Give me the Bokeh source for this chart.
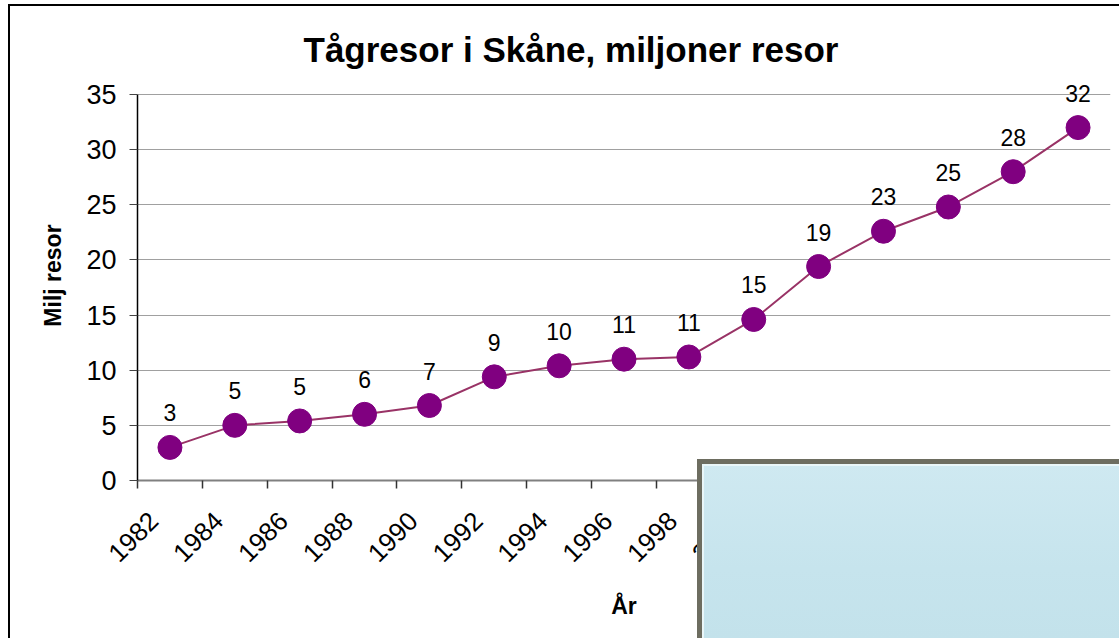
import math
from bokeh.plotting import figure
from bokeh.models import (Range1d, FixedTicker, ColumnDataSource, LabelSet, Div, GridBox)
from bokeh.core.properties import value
from bokeh.embed import file_html
from bokeh.resources import INLINE

# ---- data ----
years = [1982, 1984, 1986, 1988, 1990, 1992, 1994, 1996, 1998, 2000, 2002, 2004, 2006, 2008, 2010]
trips = [3.0, 5.0, 5.4, 6.0, 6.8, 9.4, 10.4, 11.0, 11.2, 14.6, 19.4, 22.6, 24.8, 28.0, 32.0]
trip_labels = ["3", "5", "5", "6", "7", "9", "10", "11", "11", "15", "19", "23", "25", "28", "32"]
y_ticks = [0, 5, 10, 15, 20, 25, 30, 35]
title_text = "Tågresor i Skåne, miljoner resor"
x_title = "År"
y_title = "Milj resor"

FONT = "Liberation Sans"
W, H = 1119, 638
FRAME_L, FRAME_R, FRAME_T, FRAME_B = 137, 1110, 70, 480   # page pixels
AXIS_TOP_PX = 94                                             # where 35 sits
y_top = 35 + (AXIS_TOP_PX - FRAME_T) * 35.0 / (FRAME_B - AXIS_TOP_PX)

p = figure(width=W, height=H, output_backend="svg", toolbar_location=None,
           x_range=Range1d(years[0] - 1, years[-1] + 1), y_range=Range1d(0, y_top),
           min_border_left=FRAME_L, min_border_right=W - FRAME_R,
           min_border_top=FRAME_T, min_border_bottom=H - FRAME_B)
p.outline_line_color = None
p.background_fill_color = "white"
p.border_fill_color = "white"

# title
p.title.text = title_text
p.title.align = "left"
p.title.offset = 166
p.title.standoff = 4
p.title.text_font = FONT
p.title.text_font_style = "bold"
p.title.text_font_size = "35px"
p.title.text_color = "black"

# grid
p.xgrid.grid_line_color = None
p.ygrid.grid_line_color = "#a0a0a0"
p.ygrid.grid_line_width = 1

# y axis
p.yaxis.ticker = FixedTicker(ticks=y_ticks)
p.yaxis.bounds = (y_ticks[0], y_ticks[-1])
p.yaxis.axis_line_color = "black"
p.yaxis.axis_line_width = 1.5
p.yaxis.major_tick_line_color = "#444444"
p.yaxis.major_tick_out = 8
p.yaxis.major_tick_in = 0
p.yaxis.minor_tick_line_color = None
p.yaxis.major_label_text_font = FONT
p.yaxis.major_label_text_font_size = "27px"
p.yaxis.major_label_text_color = "black"
p.yaxis.major_label_standoff = 13
p.yaxis.axis_label = y_title
p.yaxis.axis_label_text_font = FONT
p.yaxis.axis_label_text_font_style = "bold"
p.yaxis.axis_label_text_font_size = "23px"
p.yaxis.axis_label_text_color = "black"
p.yaxis.axis_label_standoff = 17

# x axis: tick marks at category boundaries; rotated labels anchored a bit left
# of each category centre, as in the spreadsheet original
bounds = [y - 1 for y in years] + [years[-1] + 1]
label_pos = [y - 0.5 for y in years]
p.xaxis.ticker = FixedTicker(ticks=label_pos, minor_ticks=bounds)
p.xaxis.major_label_overrides = {lp: str(y) for lp, y in zip(label_pos, years)}
p.xaxis.axis_line_color = "#808080"
p.xaxis.axis_line_width = 2
p.xaxis.major_tick_line_color = None
p.xaxis.minor_tick_line_color = "#333333"
p.xaxis.minor_tick_line_width = 1.5
p.xaxis.minor_tick_out = 8
p.xaxis.minor_tick_in = 0
p.xaxis.major_label_orientation = math.pi / 4
p.xaxis.major_label_text_font = FONT
p.xaxis.major_label_text_font_size = "26px"
p.xaxis.major_label_text_color = "black"
p.xaxis.major_label_standoff = 28
p.xaxis.axis_label = x_title
p.xaxis.axis_label_text_font = FONT
p.xaxis.axis_label_text_font_style = "bold"
p.xaxis.axis_label_text_font_size = "23px"
p.xaxis.axis_label_text_color = "black"
p.xaxis.axis_label_standoff = 20

src = ColumnDataSource(dict(x=years, y=trips, lab=trip_labels))
p.line("x", "y", source=src, line_color="#993366", line_width=2)
p.scatter("x", "y", source=src, size=24, fill_color="#800080", line_color="#800080")
p.add_layout(LabelSet(x="x", y="y", text="lab", source=src, text_align="center",
                      text_baseline="alphabetic", y_offset=26, text_font=value(FONT),
                      text_font_size=value("23px"), text_color="black"))

# slide frame (thin black border at left/top of the slide)
slide_frame = Div(text="", width=W - 8, height=H - 4, margin=(4, 0, 0, 8),
                  styles={"border-left": "2px solid #000", "border-top": "2px solid #000",
                          "box-sizing": "border-box", "pointer-events": "none",
                          "background": "transparent"})
# photo inset in the lower right corner of the slide (runs off the slide edge)
photo = Div(text="", width=W - 697, height=H - 459, margin=(459, 0, 0, 697),
            styles={"background": "linear-gradient(180deg, #cfe9f1 0%, #c6e4ed 60%, #c3e2eb 100%)",
                    "border-left": "5px solid #6d6d60", "border-top": "5px solid #6d6d60",
                    "box-shadow": "inset 2px 2px 0 #e9f6f8",
                    "box-sizing": "border-box"})

layout = GridBox(children=[(p, 0, 0), (slide_frame, 0, 0), (photo, 0, 0)])

open("out.html", "w").write(file_html(layout, INLINE))
